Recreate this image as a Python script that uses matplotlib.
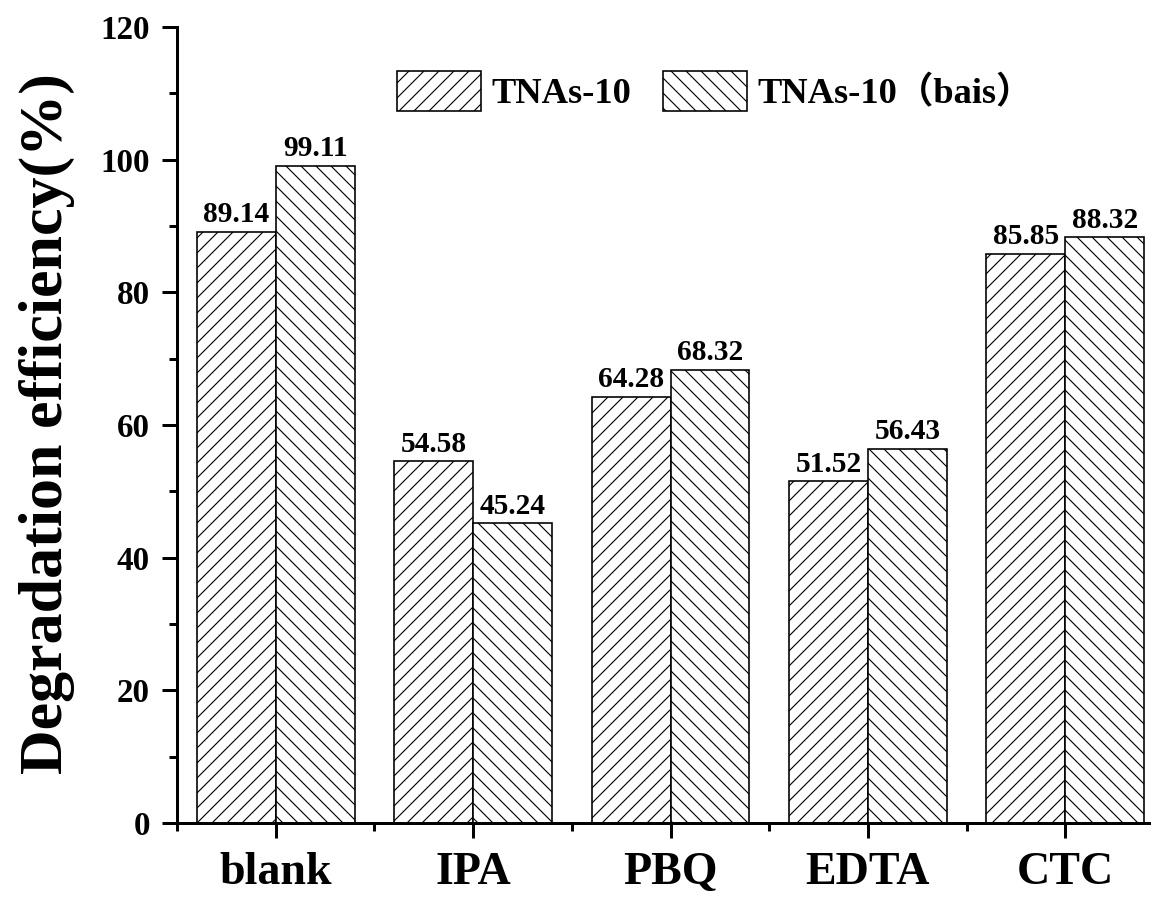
import matplotlib
matplotlib.use('Agg')
import matplotlib.pyplot as plt
import numpy as np
from matplotlib.ticker import MultipleLocator, FixedLocator

# data
categories = ['blank', 'IPA', 'PBQ', 'EDTA', 'CTC']
tnas10 = [89.14, 54.58, 64.28, 51.52, 85.85]
tnas10_bias = [99.11, 45.24, 68.32, 56.43, 88.32]
series_names = ['TNAs-10', 'TNAs-10（bais）']

DPI = 90
W, H = 1151, 897


def px(p):
    # pixel size -> points at this dpi
    return p * 72.0 / DPI


plt.rcParams['font.family'] = ['Liberation Serif', 'Noto Sans CJK SC']
plt.rcParams['font.weight'] = 'bold'
plt.rcParams['hatch.linewidth'] = 0.9

fig = plt.figure(figsize=(W / DPI, H / DPI), dpi=DPI)

# axes box in pixels: left 177, right 1164 (cut by the edge), top 27, bottom 823
left, right, top, bottom = 177, 1164, 27, 823
ax = fig.add_axes([left / W, 1 - bottom / H, (right - left) / W, (bottom - top) / H])

x = np.arange(len(categories))
w = 0.4
b1 = ax.bar(x - w / 2, tnas10, w, color='white', edgecolor='black', hatch='//',
            linewidth=1.3, label=series_names[0])
b2 = ax.bar(x + w / 2, tnas10_bias, w, color='white', edgecolor='black', hatch='\\\\',
            linewidth=1.3, label=series_names[1])

for bars, vals in ((b1, tnas10), (b2, tnas10_bias)):
    for r, v in zip(bars, vals):
        ax.text(r.get_x() + r.get_width() / 2, v + 0.5, f'{v:.2f}',
                ha='center', va='bottom', fontsize=px(29.5), fontweight='bold')

ax.set_xlim(-0.5, 4.5)
ax.set_ylim(0, 120)

ax.spines['top'].set_visible(False)
ax.spines['right'].set_visible(False)
ax.spines['left'].set_linewidth(px(3))
ax.spines['bottom'].set_linewidth(px(3))

ax.set_xticks(x)
ax.set_xticklabels(categories)
ax.xaxis.set_minor_locator(FixedLocator(np.arange(-0.5, 5, 1)))
ax.yaxis.set_major_locator(MultipleLocator(20))
ax.yaxis.set_minor_locator(MultipleLocator(10))

ax.tick_params(axis='both', which='major', direction='out', length=px(15), width=px(3))
ax.tick_params(axis='both', which='minor', direction='out', length=px(8), width=px(3))
ax.tick_params(axis='y', which='major', labelsize=px(33), pad=px(12))
ax.tick_params(axis='x', which='major', labelsize=px(46), pad=px(14))
for lab in ax.get_xticklabels() + ax.get_yticklabels():
    lab.set_fontweight('bold')

fig.text(47 / W, 1 - 424 / H, 'Degradation efficiency(%)', rotation=90,
         ha='center', va='center', fontsize=px(62), fontweight='bold')

leg = ax.legend(loc='upper left', bbox_to_anchor=(397 / W, 1 - 71 / H),
                bbox_transform=fig.transFigure, ncol=2, frameon=False,
                borderpad=0, borderaxespad=0, handlelength=2.3, handleheight=1.3,
                handletextpad=0.3, columnspacing=0.85,
                prop={'size': px(36.5), 'weight': 'bold'})

fig.savefig('out.png', dpi=DPI)
